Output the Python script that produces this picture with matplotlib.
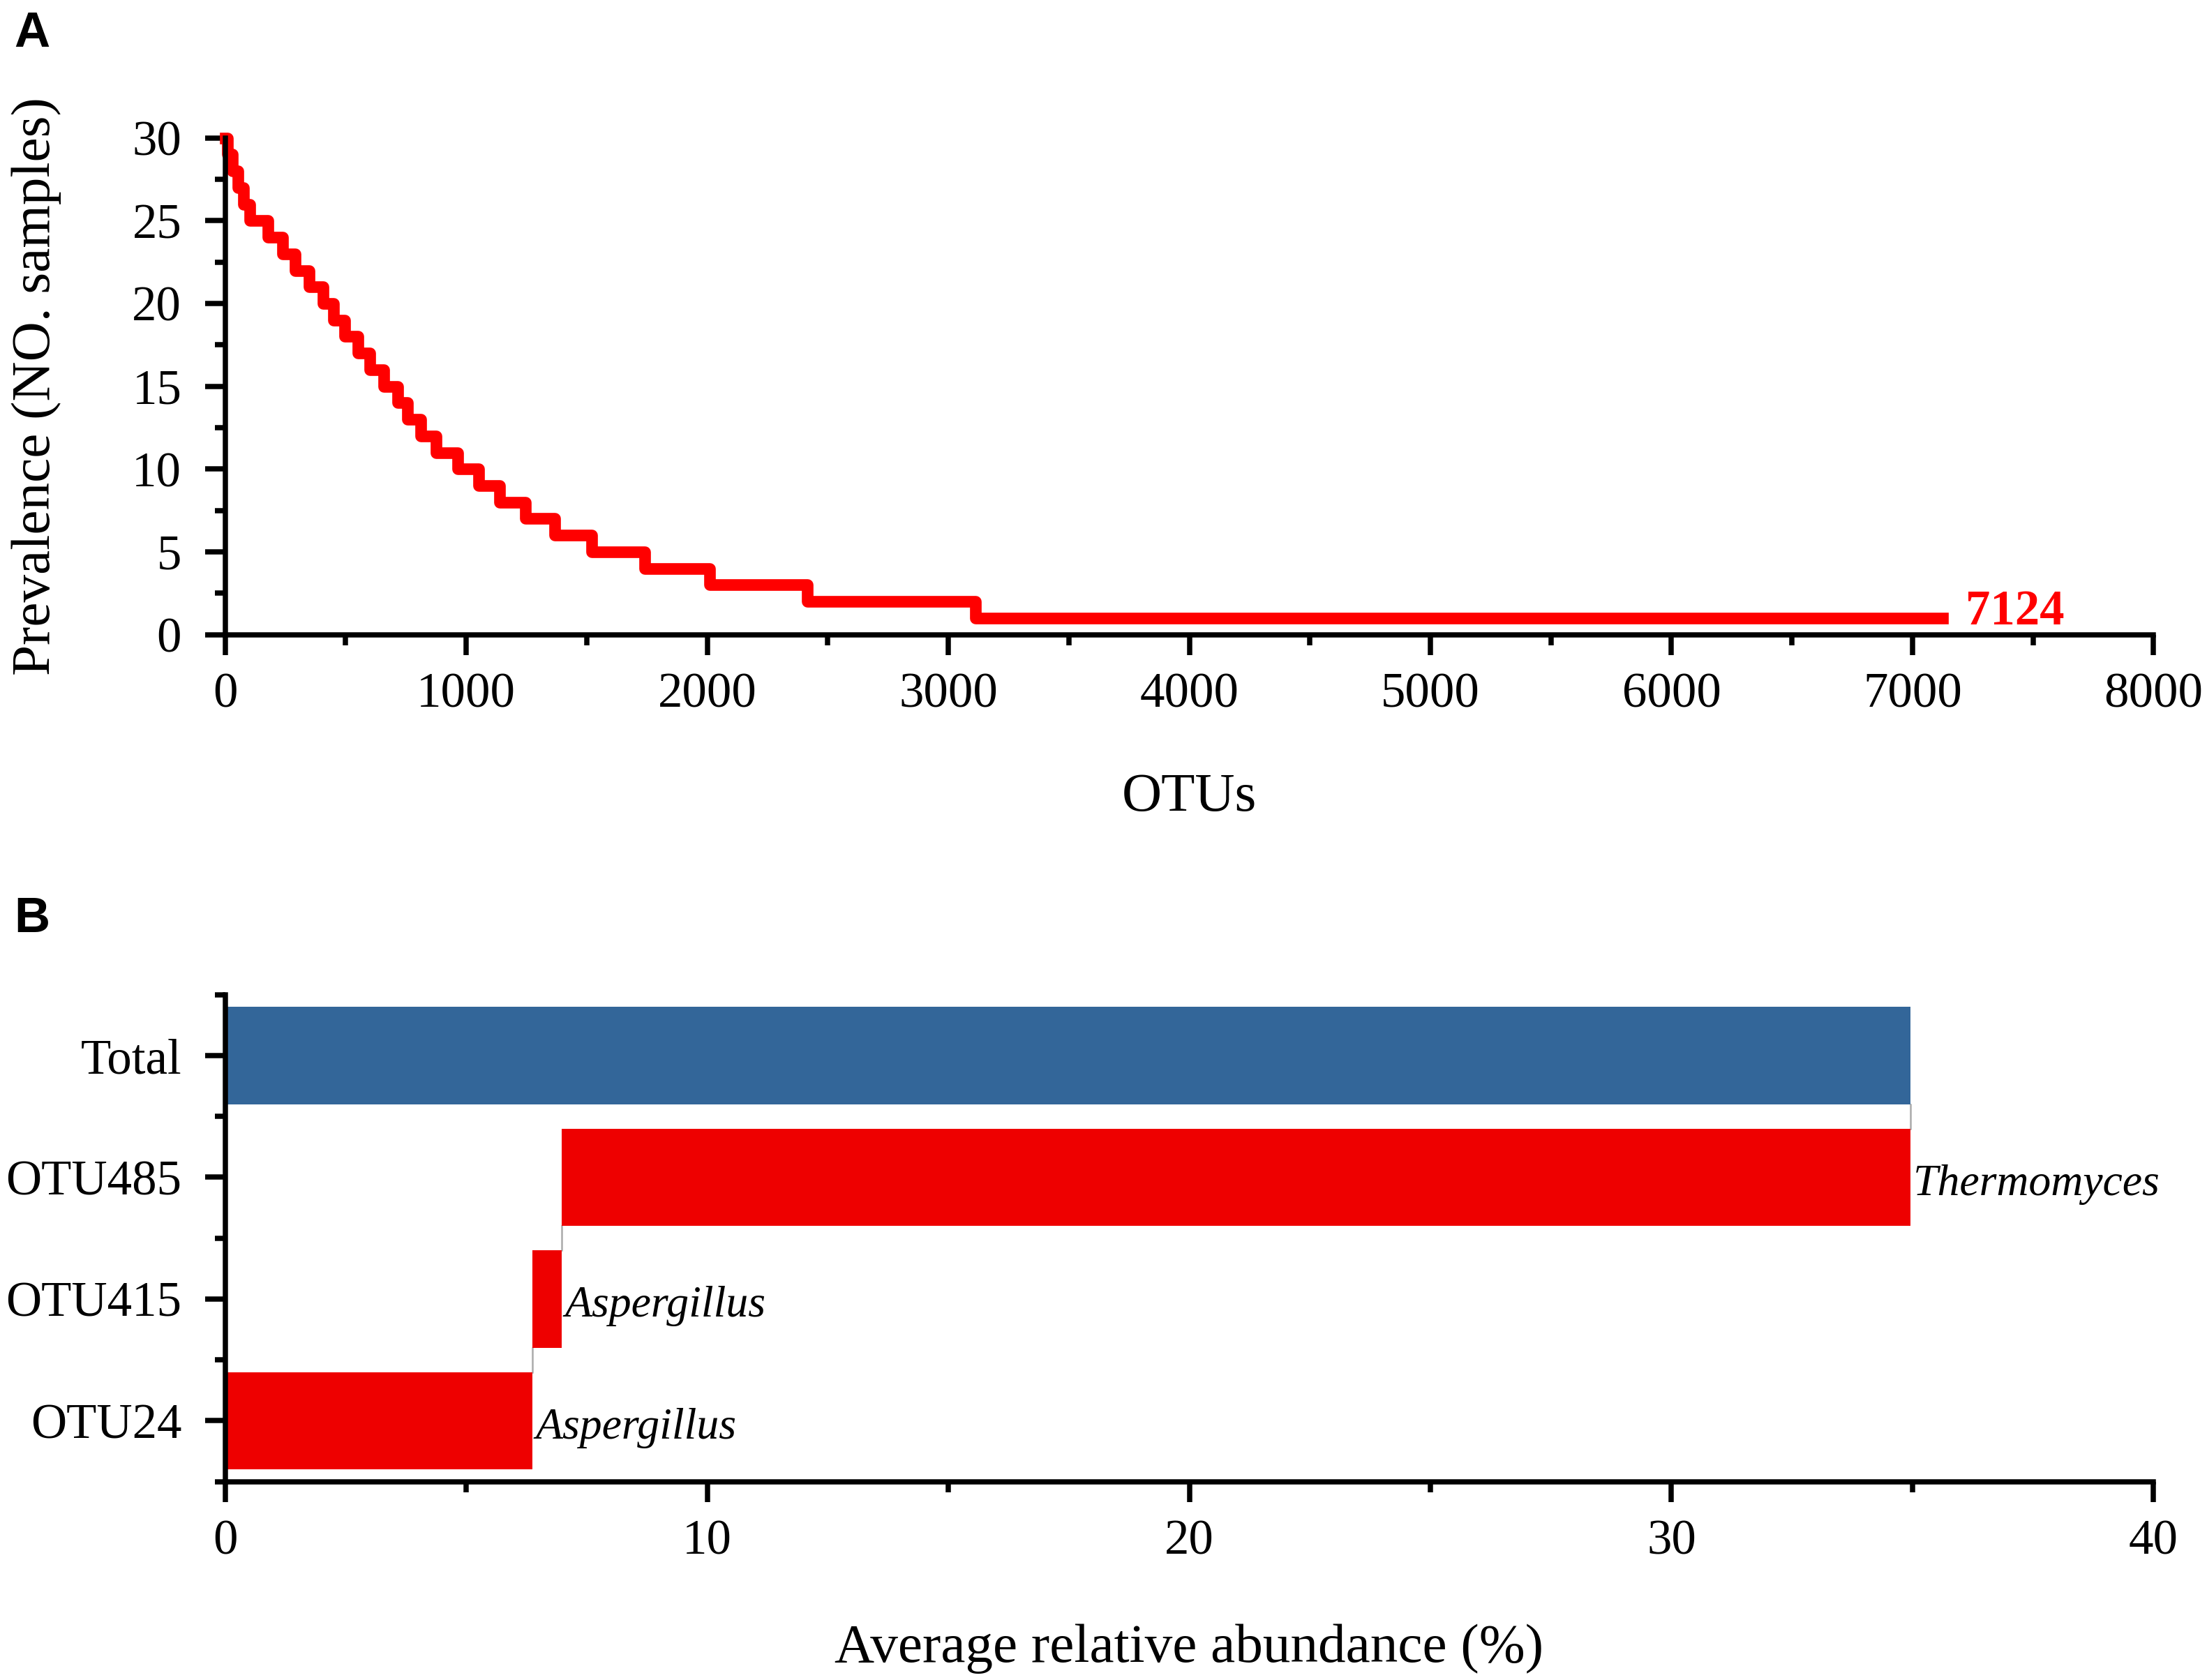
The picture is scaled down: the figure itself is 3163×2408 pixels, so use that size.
import numpy as np
import matplotlib
matplotlib.use("Agg")
import matplotlib.pyplot as plt
from matplotlib.ticker import MultipleLocator, FixedLocator

plt.rcParams['font.family'] = ['Liberation Serif', 'DejaVu Serif']

# panel A: prevalence steps (OTU rank where the prevalence drops)
otu_rank = [0, 10, 29, 53, 77, 101, 179, 237, 290, 348, 406, 449, 497, 551, 599,
            657, 715, 758, 811, 874, 966, 1053, 1140, 1246, 1367, 1521, 1741,
            2010, 2414, 3114, 7124]
prevalence = [30, 29, 28, 27, 26, 25, 24, 23, 22, 21, 20, 19, 18, 17, 16,
              15, 14, 13, 12, 11, 10, 9, 8, 7, 6, 5, 4, 3, 2, 1, 1]
n_otus = 7124

# panel B: waterfall of average relative abundance (%)
bar_names = ['OTU24', 'OTU415', 'OTU485', 'Total']
bar_values = [6.38, 0.60, 27.97, 34.95]
genus = ['Aspergillus', 'Aspergillus', 'Thermomyces', '']

red = '#ee0000'
blue = '#336699'

fig = plt.figure(figsize=(3163 / 300, 2408 / 300), dpi=300)
axA = fig.add_axes([0.102, 0.6223, 0.8738, 0.2956])
axB = fig.add_axes([0.102, 0.1181, 0.8738, 0.2898])

for ax in (axA, axB):
    for s in ('top', 'right'):
        ax.spines[s].set_visible(False)
    for s in ('left', 'bottom'):
        ax.spines[s].set_linewidth(1.8)
    ax.tick_params(which='major', length=7, width=1.8, labelsize=17, direction='out')
    ax.tick_params(which='minor', length=3.5, width=1.8, direction='out')
    ax.tick_params(axis='x', pad=6)
    ax.tick_params(axis='y', pad=8)

# ---- A ----
axA.step(otu_rank, prevalence, where='post', color='#ff0000', lw=4, clip_on=False)
axA.annotate(str(n_otus), (otu_rank[-1], prevalence[-1]), xytext=(8, 2),
             textcoords='offset points', color='#ff0000', fontsize=17,
             fontweight='bold', va='center', ha='left')
axA.set_xlim(0, 8000)
axA.set_ylim(0, 30)
axA.xaxis.set_major_locator(MultipleLocator(1000))
axA.xaxis.set_minor_locator(MultipleLocator(500))
axA.yaxis.set_major_locator(MultipleLocator(5))
axA.yaxis.set_minor_locator(MultipleLocator(2.5))
axA.set_xlabel('OTUs', fontsize=19)
axA.set_ylabel('Prevalence (NO. samples)', fontsize=19)
axA.xaxis.set_label_coords(0.5, -0.278)
axA.yaxis.set_label_coords(-0.085, 0.5)

# ---- B ----
ypos = np.arange(len(bar_names))
lefts = []
acc = 0
for i, v in enumerate(bar_values):
    if bar_names[i] == 'Total':
        lefts.append(0)
    else:
        lefts.append(acc)
        acc += v
colors = [red, red, red, blue]
axB.barh(ypos, bar_values, left=lefts, height=0.8, color=colors, zorder=2)

# connectors between consecutive bars
for i in range(len(bar_names) - 1):
    xc = lefts[i] + bar_values[i]
    axB.plot([xc, xc], [ypos[i] + 0.4, ypos[i + 1] - 0.4], color='#aaaaaa', lw=0.6, zorder=1)

for i, g in enumerate(genus):
    if g:
        axB.annotate(g, (lefts[i] + bar_values[i], ypos[i]), xytext=(1, -2.5),
                     textcoords='offset points', fontsize=15.3, style='italic',
                     va='center', ha='left')

axB.set_xlim(0, 40)
axB.set_ylim(-0.5, 3.5)
axB.set_yticks(ypos)
axB.set_yticklabels(bar_names)
axB.yaxis.set_minor_locator(FixedLocator(np.arange(-0.5, 3.6, 1)))
axB.xaxis.set_major_locator(MultipleLocator(10))
axB.xaxis.set_minor_locator(MultipleLocator(5))
axB.set_xlabel('Average relative abundance (%)', fontsize=19)
axB.xaxis.set_label_coords(0.5, -0.292)

# panel letters
fig.text(0.0064, 0.9933, 'A', fontsize=17, fontweight='bold', family='Liberation Sans', va='top')
fig.text(0.0064, 0.4665, 'B', fontsize=17, fontweight='bold', family='Liberation Sans', va='top')

fig.savefig('out.png', dpi=300)
